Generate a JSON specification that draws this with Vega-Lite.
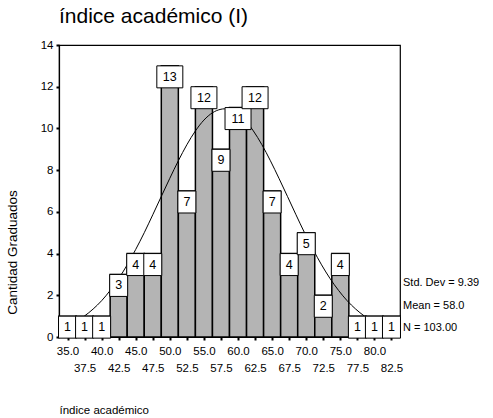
{
  "$schema": "https://vega.github.io/schema/vega-lite/v6.json",
  "autosize": "none",
  "width": 341,
  "height": 292,
  "padding": {"left": 59, "top": 45, "right": 93, "bottom": 81},
  "title": {
    "text": "índice académico (I)",
    "anchor": "start",
    "frame": "group",
    "fontSize": 21,
    "fontWeight": "normal",
    "font": "Liberation Sans",
    "color": "#000000",
    "baseline": "alphabetic",
    "offset": -5
  },
  "config": {
    "font": "Liberation Sans",
    "view": {"stroke": "#000000", "strokeWidth": 1.2}
  },
  "resolve": {"axis": {"x": "independent"}},
  "datasets": {
    "bins": [
      {"mid": 35.0, "lo": 33.75, "hi": 36.25, "count": 1},
      {"mid": 37.5, "lo": 36.25, "hi": 38.75, "count": 1},
      {"mid": 40.0, "lo": 38.75, "hi": 41.25, "count": 1},
      {"mid": 42.5, "lo": 41.25, "hi": 43.75, "count": 3},
      {"mid": 45.0, "lo": 43.75, "hi": 46.25, "count": 4},
      {"mid": 47.5, "lo": 46.25, "hi": 48.75, "count": 4},
      {"mid": 50.0, "lo": 48.75, "hi": 51.25, "count": 13},
      {"mid": 52.5, "lo": 51.25, "hi": 53.75, "count": 7},
      {"mid": 55.0, "lo": 53.75, "hi": 56.25, "count": 12},
      {"mid": 57.5, "lo": 56.25, "hi": 58.75, "count": 9},
      {"mid": 60.0, "lo": 58.75, "hi": 61.25, "count": 11},
      {"mid": 62.5, "lo": 61.25, "hi": 63.75, "count": 12},
      {"mid": 65.0, "lo": 63.75, "hi": 66.25, "count": 7},
      {"mid": 67.5, "lo": 66.25, "hi": 68.75, "count": 4},
      {"mid": 70.0, "lo": 68.75, "hi": 71.25, "count": 5},
      {"mid": 72.5, "lo": 71.25, "hi": 73.75, "count": 2},
      {"mid": 75.0, "lo": 73.75, "hi": 76.25, "count": 4},
      {"mid": 77.5, "lo": 76.25, "hi": 78.75, "count": 1},
      {"mid": 80.0, "lo": 78.75, "hi": 81.25, "count": 1},
      {"mid": 82.5, "lo": 81.25, "hi": 83.75, "count": 1}
    ],
    "curve": [
      {"x": 33.75, "y": 0.39}, {"x": 35.0, "y": 0.55}, {"x": 36.25, "y": 0.75},
      {"x": 37.5, "y": 1.01}, {"x": 38.75, "y": 1.34}, {"x": 40.0, "y": 1.74},
      {"x": 41.25, "y": 2.23}, {"x": 42.5, "y": 2.80}, {"x": 43.75, "y": 3.46},
      {"x": 45.0, "y": 4.20}, {"x": 46.25, "y": 5.00}, {"x": 47.5, "y": 5.86},
      {"x": 48.75, "y": 6.74}, {"x": 50.0, "y": 7.61}, {"x": 51.25, "y": 8.45},
      {"x": 52.5, "y": 9.22}, {"x": 53.75, "y": 9.88}, {"x": 55.0, "y": 10.40},
      {"x": 56.25, "y": 10.75}, {"x": 57.5, "y": 10.92}, {"x": 58.0, "y": 10.94},
      {"x": 58.5, "y": 10.92}, {"x": 59.75, "y": 10.75}, {"x": 61.0, "y": 10.40},
      {"x": 62.25, "y": 9.88}, {"x": 63.5, "y": 9.22}, {"x": 64.75, "y": 8.45},
      {"x": 66.0, "y": 7.61}, {"x": 67.25, "y": 6.74}, {"x": 68.5, "y": 5.86},
      {"x": 69.75, "y": 5.00}, {"x": 71.0, "y": 4.20}, {"x": 72.25, "y": 3.46},
      {"x": 73.5, "y": 2.80}, {"x": 74.75, "y": 2.23}, {"x": 76.0, "y": 1.74},
      {"x": 77.25, "y": 1.34}, {"x": 78.5, "y": 1.01}, {"x": 79.75, "y": 0.75},
      {"x": 81.0, "y": 0.55}, {"x": 82.25, "y": 0.39}, {"x": 83.5, "y": 0.28}
    ],
    "stats": [
      {"lines": ["Std. Dev = 9.39", "Mean = 58.0", "N = 103.00"]}
    ]
  },
  "layer": [
    {
      "data": {"name": "bins"},
      "mark": {"type": "rect", "fill": "#b4b4b4", "stroke": "#000000", "strokeWidth": 1.5},
      "encoding": {
        "x": {
          "field": "lo", "type": "quantitative",
          "scale": {"domain": [33.75, 83.75], "nice": false, "zero": false},
          "axis": {
            "orient": "bottom",
            "values": [35, 40, 45, 50, 55, 60, 65, 70, 75, 80],
            "format": ".1f",
            "grid": false,
            "domain": false,
            "tickColor": "#000000",
            "tickSize": 3,
            "tickWidth": 2,
            "labelColor": "#000000",
            "labelFontSize": 11.5,
            "labelPadding": 5,
            "labelFlush": false,
            "labelOverlap": false,
            "labelBaseline": "top",
            "title": "índice académico",
            "titleFontSize": 11.5,
            "titleFontWeight": "normal",
            "titleColor": "#000000",
            "titleAnchor": "start",
            "titleAlign": "left",
            "titleBaseline": "middle",
            "titleX": 0,
            "titleY": 73
          }
        },
        "x2": {"field": "hi"},
        "y": {
          "field": "count", "type": "quantitative",
          "scale": {"domain": [0, 14], "nice": false},
          "axis": {
            "values": [0, 2, 4, 6, 8, 10, 12, 14],
            "grid": false,
            "domainColor": "#000000",
            "domainWidth": 1.2,
            "tickColor": "#000000",
            "tickSize": 3,
            "tickWidth": 2,
            "labelColor": "#000000",
            "labelFontSize": 11.5,
            "labelPadding": 3,
            "title": "Cantidad Graduados",
            "titleFontSize": 13.5,
            "titleFontWeight": "normal",
            "titleColor": "#000000",
            "titleX": -47,
            "titleY": 207,
            "titleAlign": "center",
            "titleBaseline": "middle"
          }
        },
        "y2": {"datum": 0}
      }
    },
    {
      "data": {"name": "curve"},
      "mark": {"type": "line", "color": "#000000", "strokeWidth": 1, "interpolate": "monotone"},
      "encoding": {
        "x": {
          "field": "x", "type": "quantitative",
          "axis": {
            "orient": "bottom",
            "values": [37.5, 42.5, 47.5, 52.5, 57.5, 62.5, 67.5, 72.5, 77.5, 82.5],
            "format": ".1f",
            "grid": false,
            "domain": false,
            "tickColor": "#000000",
            "tickSize": 3,
            "tickWidth": 2,
            "labelColor": "#000000",
            "labelFontSize": 11.5,
            "labelPadding": 22,
            "labelFlush": false,
            "labelOverlap": false,
            "labelBaseline": "top",
            "title": null
          }
        },
        "y": {"field": "y", "type": "quantitative"}
      }
    },
    {
      "data": {"name": "bins"},
      "transform": [{"filter": "datum.count < 10"}],
      "mark": {"type": "point", "shape": "M-1,-1.222H1V1.222H-1Z", "size": 324, "filled": true, "fill": "#ffffff", "stroke": "#000000", "strokeWidth": 1, "opacity": 1, "yOffset": 11},
      "encoding": {
        "x": {"field": "mid", "type": "quantitative", "axis": null},
        "y": {"field": "count", "type": "quantitative"}
      }
    },
    {
      "data": {"name": "bins"},
      "transform": [{"filter": "datum.count >= 10"}],
      "mark": {"type": "point", "shape": "M-1,-0.846H1V0.846H-1Z", "size": 676, "filled": true, "fill": "#ffffff", "stroke": "#000000", "strokeWidth": 1, "opacity": 1, "yOffset": 11},
      "encoding": {
        "x": {"field": "mid", "type": "quantitative", "axis": null},
        "y": {"field": "count", "type": "quantitative"}
      }
    },
    {
      "data": {"name": "bins"},
      "mark": {"type": "text", "fontSize": 12.5, "color": "#000000", "baseline": "middle", "align": "center", "yOffset": 11},
      "encoding": {
        "x": {"field": "mid", "type": "quantitative", "axis": null},
        "y": {"field": "count", "type": "quantitative"},
        "text": {"field": "count", "type": "quantitative"}
      }
    },
    {
      "data": {"name": "stats"},
      "mark": {"type": "text", "align": "left", "baseline": "top", "fontSize": 11, "lineHeight": 22.5, "color": "#000000", "dx": 3, "dy": -60},
      "encoding": {
        "x": {"datum": 83.75, "axis": null},
        "y": {"datum": 0},
        "text": {"field": "lines"}
      }
    }
  ]
}
